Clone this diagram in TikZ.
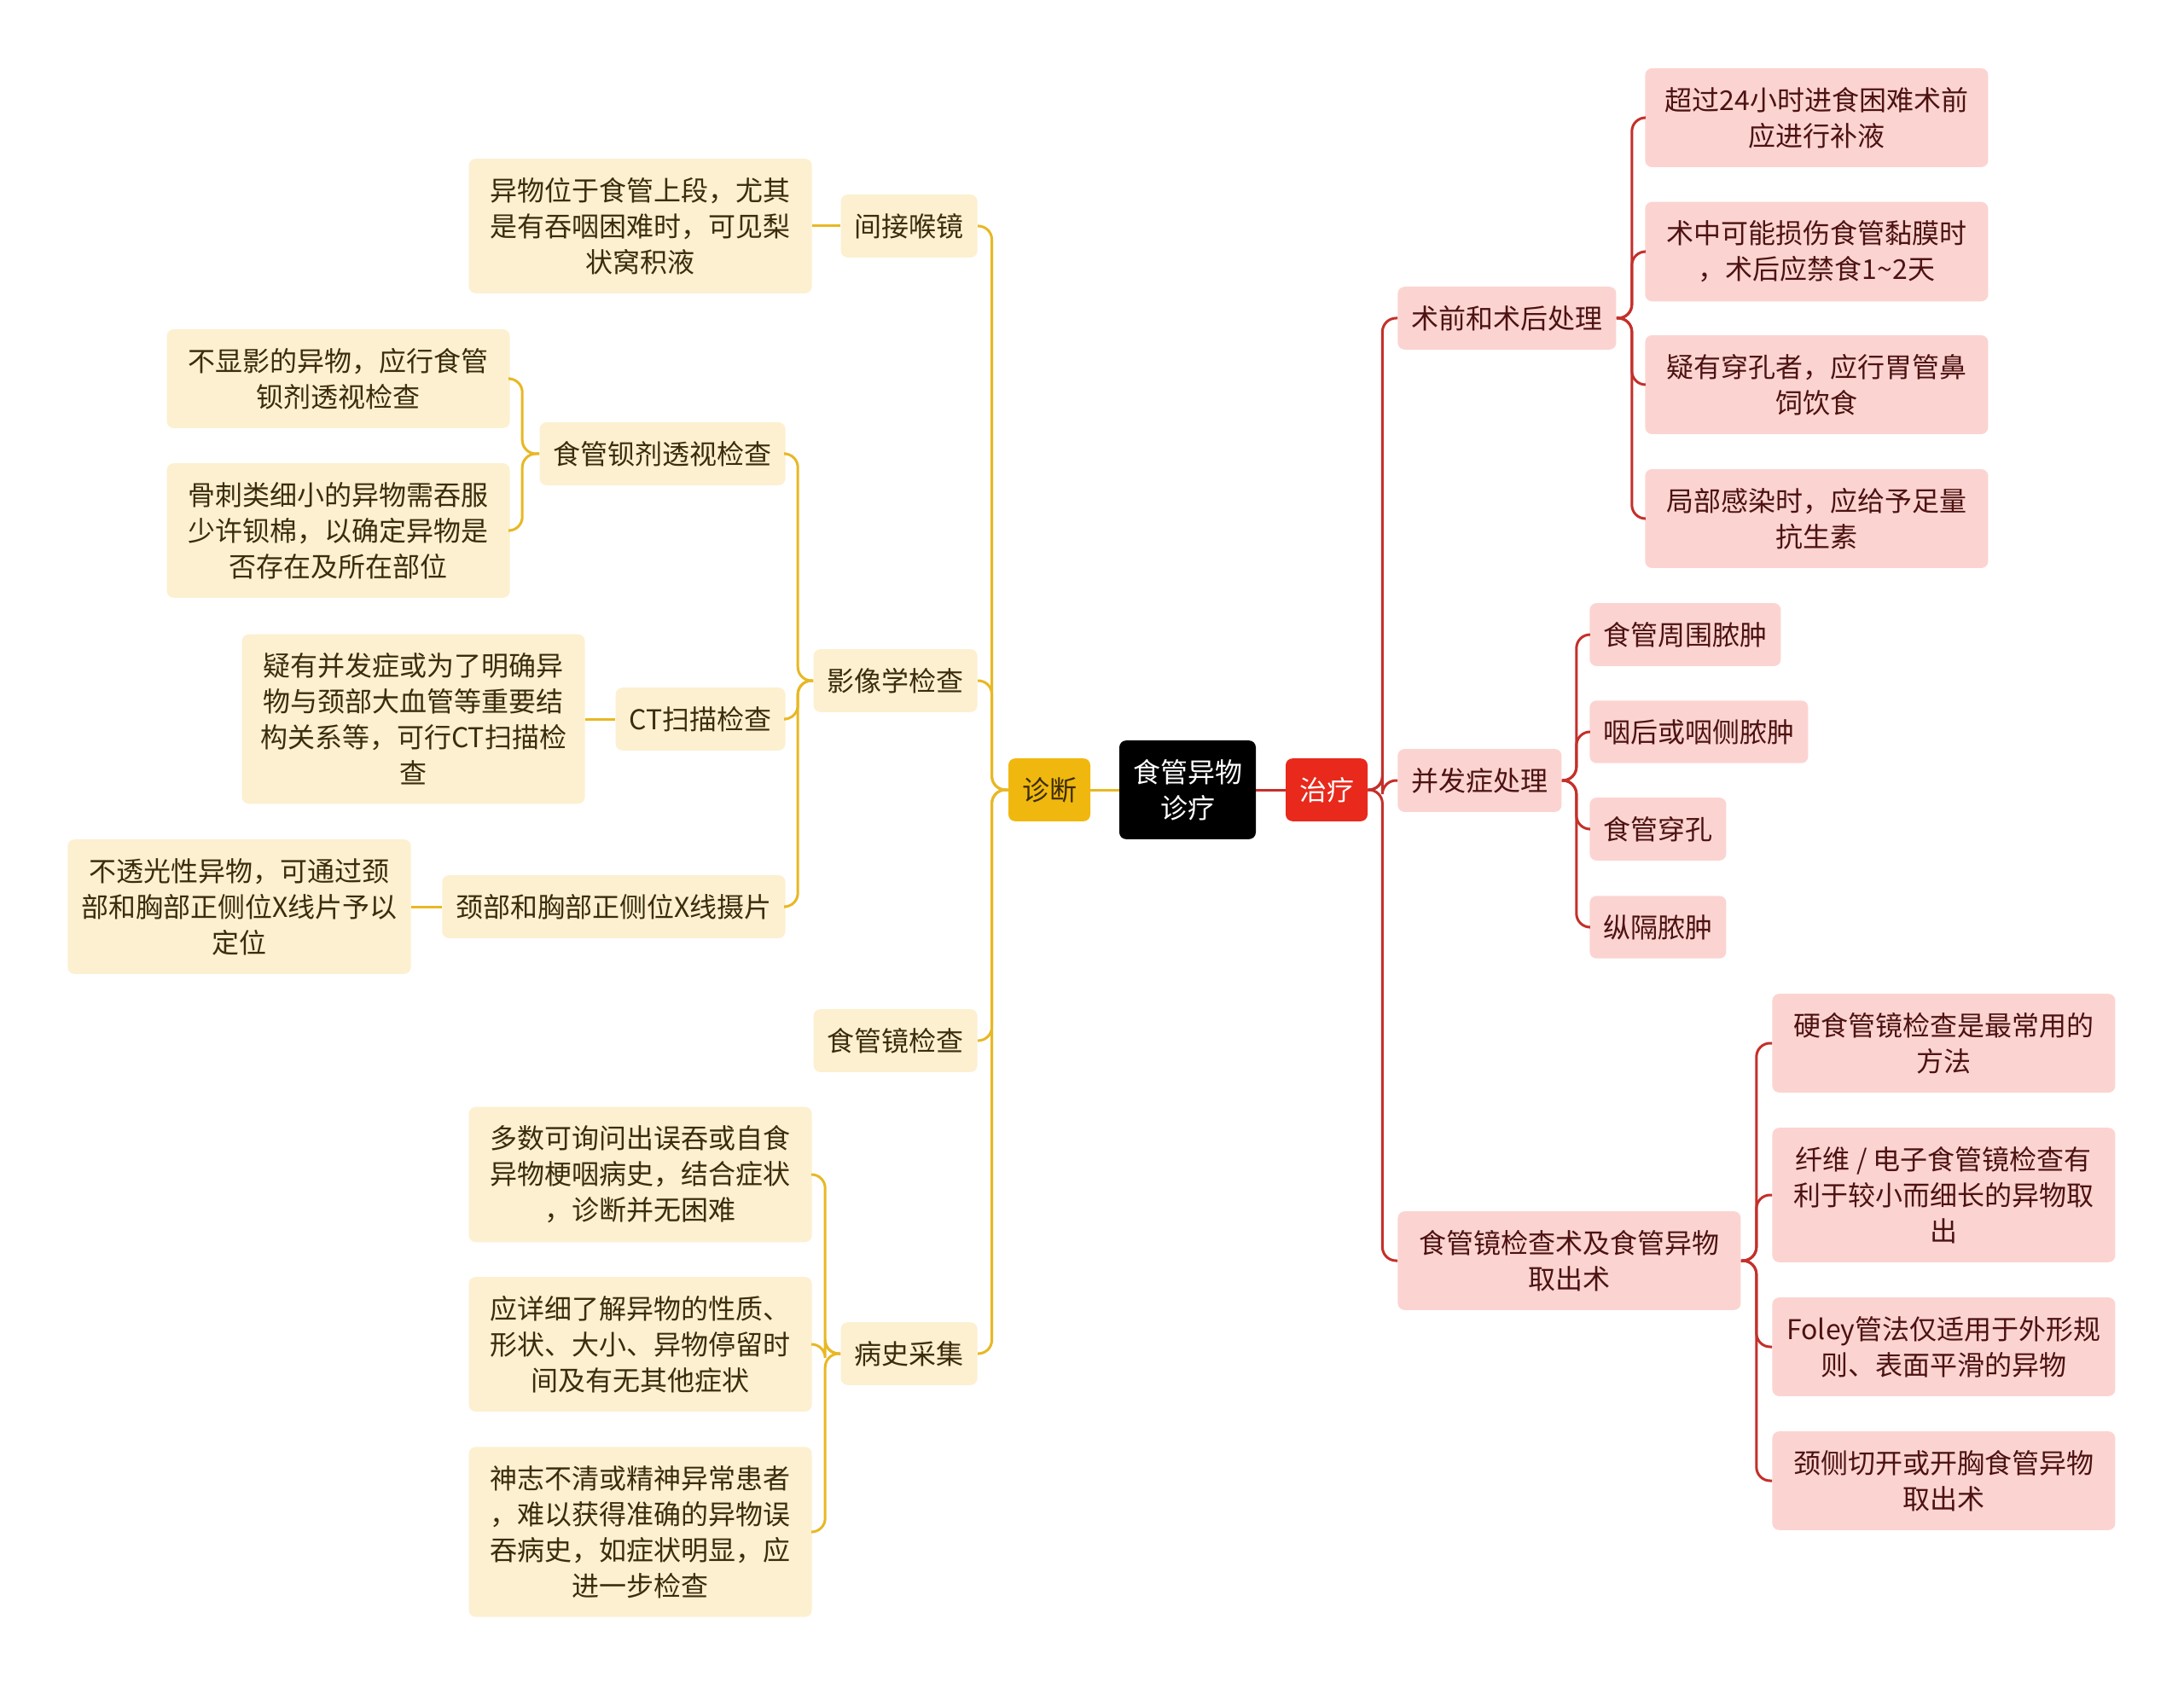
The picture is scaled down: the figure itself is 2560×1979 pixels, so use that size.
\documentclass[tikz,border=0pt]{standalone}
\usepackage{fontspec}
\setmainfont{Noto Sans CJK SC}

\definecolor{diagline}{HTML}{E8B824}
\definecolor{diagfill}{HTML}{FCF0D0}
\definecolor{diagtext}{HTML}{3B2C0C}
\definecolor{diagroot}{HTML}{F0B80E}
\definecolor{treatline}{HTML}{C4302A}
\definecolor{treatfill}{HTML}{FBD4D1}
\definecolor{treattext}{HTML}{4D1212}
\definecolor{treatroot}{HTML}{E8291C}

\tikzset{
  box/.style={rounded corners=4pt, inner xsep=8pt, inner ysep=11pt, align=center,
    font=\fontsize{16pt}{21pt}\selectfont},
  dbox/.style={box, fill=diagfill, text=diagtext},
  tbox/.style={box, fill=treatfill, text=treattext},
  wide/.style={minimum width=201pt},
  dlink/.style={draw=diagline, line width=1.5pt, rounded corners=8pt},
  tlink/.style={draw=treatline, line width=1.5pt, rounded corners=8pt}
}

\begin{document}
\begin{tikzpicture}[x=0.5pt, y=-0.5pt]
  \useasboundingbox[fill=white] (0,0) rectangle (2560,1979);

  % Root and main branches
  \node[box, fill=black, text=white] (root) at (1392,926) {食管异物\\诊疗};
  \node[box, fill=diagroot, text=diagtext] (diag) at (1230,926) {诊断};
  \node[box, fill=treatroot, text=white] (treat) at (1555,926) {治疗};

  % Diagnosis
  \node[dbox, anchor=east] (hj) at (1146,265) {间接喉镜};
  \node[dbox, anchor=east] (yx) at (1146,798) {影像学检查};
  \node[dbox, anchor=east] (sgj) at (1146,1220) {食管镜检查};
  \node[dbox, anchor=east] (bs) at (1146,1587) {病史采集};

  \node[dbox, wide, anchor=east] (hjA) at (952,265) {异物位于食管上段，尤其\\是有吞咽困难时，可见梨\\状窝积液};

  \node[dbox, anchor=east] (bj) at (921,532) {食管钡剂透视检查};
  \node[dbox, anchor=east] (ct) at (921,843) {CT扫描检查};
  \node[dbox, anchor=east] (xp) at (921,1063) {颈部和胸部正侧位X线摄片};

  \node[dbox, wide, anchor=east] (bjA) at (598,444) {不显影的异物，应行食管\\钡剂透视检查};
  \node[dbox, wide, anchor=east] (bjB) at (598,622) {骨刺类细小的异物需吞服\\少许钡棉，以确定异物是\\否存在及所在部位};
  \node[dbox, wide, anchor=east] (ctA) at (686,843) {疑有并发症或为了明确异\\物与颈部大血管等重要结\\构关系等，可行CT扫描检\\查};
  \node[dbox, wide, anchor=east] (xpA) at (482,1063) {不透光性异物，可通过颈\\部和胸部正侧位X线片予以\\定位};

  \node[dbox, wide, anchor=east] (bsA) at (952,1377) {多数可询问出误吞或自食\\异物梗咽病史，结合症状\\，诊断并无困难};
  \node[dbox, wide, anchor=east] (bsB) at (952,1576) {应详细了解异物的性质、\\形状、大小、异物停留时\\间及有无其他症状};
  \node[dbox, wide, anchor=east] (bsC) at (952,1796) {神志不清或精神异常患者\\，难以获得准确的异物误\\吞病史，如症状明显，应\\进一步检查};

  % Treatment
  \node[tbox, anchor=west] (sq) at (1638,373) {术前和术后处理};
  \node[tbox, anchor=west] (bf) at (1638,915) {并发症处理};
  \node[tbox, wide, anchor=west] (qc) at (1638,1478) {食管镜检查术及食管异物\\取出术};

  \node[tbox, wide, anchor=west] (sqA) at (1928,138) {超过24小时进食困难术前\\应进行补液};
  \node[tbox, wide, anchor=west] (sqB) at (1928,295) {术中可能损伤食管黏膜时\\，术后应禁食1\textasciitilde 2天};
  \node[tbox, wide, anchor=west] (sqC) at (1928,451) {疑有穿孔者，应行胃管鼻\\饲饮食};
  \node[tbox, wide, anchor=west] (sqD) at (1928,608) {局部感染时，应给予足量\\抗生素};

  \node[tbox, anchor=west] (bfA) at (1863,744) {食管周围脓肿};
  \node[tbox, anchor=west] (bfB) at (1863,858) {咽后或咽侧脓肿};
  \node[tbox, anchor=west] (bfC) at (1863,972) {食管穿孔};
  \node[tbox, anchor=west] (bfD) at (1863,1087) {纵隔脓肿};

  \node[tbox, wide, anchor=west] (qcA) at (2077,1223) {硬食管镜检查是最常用的\\方法};
  \node[tbox, wide, anchor=west] (qcB) at (2077,1401) {纤维 / 电子食管镜检查有\\利于较小而细长的异物取\\出};
  \node[tbox, wide, anchor=west] (qcC) at (2077,1579) {Foley管法仅适用于外形规\\则、表面平滑的异物};
  \node[tbox, wide, anchor=west] (qcD) at (2077,1736) {颈侧切开或开胸食管异物\\取出术};

  % Connectors
  \draw[dlink] (root.west) -- (diag.east);
  \draw[tlink] (root.east) -- (treat.west);

  \foreach \c in {hj,yx,sgj,bs}
    \draw[dlink] (diag.west) -- ([xshift=-9.5pt]diag.west) |- (\c.east);
  \draw[dlink] (hj.west) -- (hjA.east);
  \foreach \c in {bj,ct,xp}
    \draw[dlink] (yx.west) -- ([xshift=-9pt]yx.west) |- (\c.east);
  \foreach \c in {bjA,bjB}
    \draw[dlink] (bj.west) -- ([xshift=-10pt]bj.west) |- (\c.east);
  \draw[dlink] (ct.west) -- (ctA.east);
  \draw[dlink] (xp.west) -- (xpA.east);
  \foreach \c in {bsA,bsB,bsC}
    \draw[dlink] (bs.west) -- ([xshift=-9pt]bs.west) |- (\c.east);

  \foreach \c in {sq,bf,qc}
    \draw[tlink] (treat.east) -- ([xshift=8.5pt]treat.east) |- (\c.west);
  \foreach \c in {sqA,sqB,sqC,sqD}
    \draw[tlink] (sq.east) -- ([xshift=9pt]sq.east) |- (\c.west);
  \foreach \c in {bfA,bfB,bfC,bfD}
    \draw[tlink] (bf.east) -- ([xshift=8.5pt]bf.east) |- (\c.west);
  \foreach \c in {qcA,qcB,qcC,qcD}
    \draw[tlink] (qc.east) -- ([xshift=9pt]qc.east) |- (\c.west);
\end{tikzpicture}
\end{document}
